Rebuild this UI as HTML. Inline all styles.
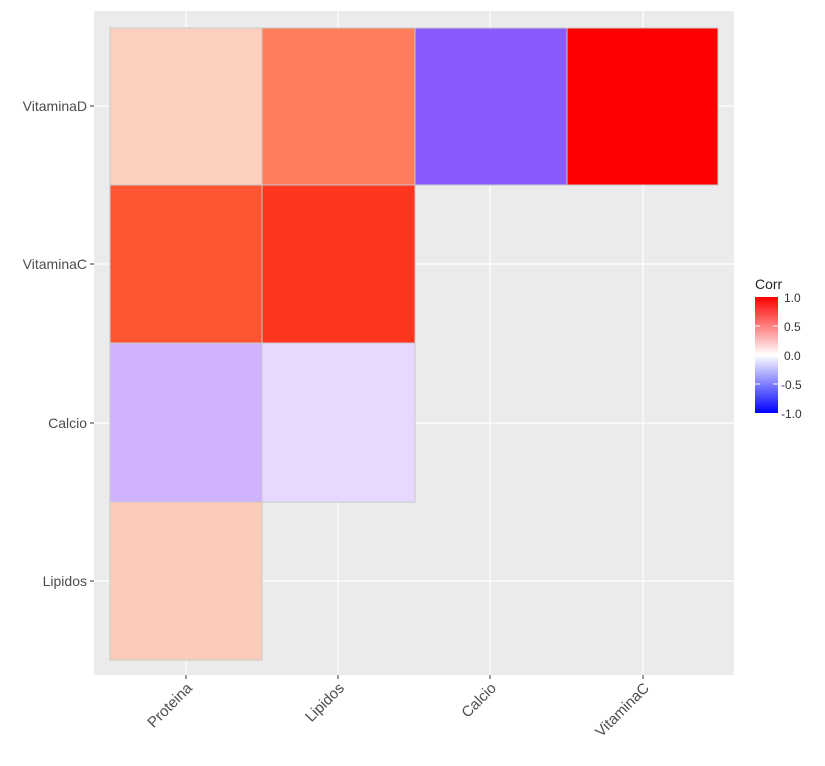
<!DOCTYPE html>
<html><head><style>
body{margin:0;background:#fff;}
</style></head><body>
<svg width="825" height="761" xmlns="http://www.w3.org/2000/svg" font-family="Liberation Sans, sans-serif">
<rect x="94" y="11" width="640" height="664" fill="#EBEBEB"/>
<g stroke="#fff" stroke-width="1.3">
<line x1="186" y1="11" x2="186" y2="675"/><line x1="338" y1="11" x2="338" y2="675"/>
<line x1="490" y1="11" x2="490" y2="675"/><line x1="643" y1="11" x2="643" y2="675"/>
<line x1="94" y1="106" x2="734" y2="106"/><line x1="94" y1="264" x2="734" y2="264"/>
<line x1="94" y1="423" x2="734" y2="423"/><line x1="94" y1="581" x2="734" y2="581"/>
</g>
<g stroke="#c8c8c8" stroke-width="1">
<rect x="110" y="28" width="152" height="157" fill="#FDCFBF"/>
<rect x="262" y="28" width="153" height="157" fill="#FE7E5B"/>
<rect x="415" y="28" width="152" height="157" fill="#8A5AFF"/>
<rect x="567" y="28" width="151" height="157" fill="#FF0000"/>
<rect x="110" y="185" width="152" height="158" fill="#FF5533"/>
<rect x="262" y="185" width="153" height="158" fill="#FF3520"/>
<rect x="110" y="343" width="152" height="159" fill="#D0B3FF"/>
<rect x="262" y="343" width="153" height="159" fill="#E7D8FF"/>
<rect x="110" y="502" width="152" height="158" fill="#FDCBB9"/>
</g>
<g stroke="#333" stroke-width="1">
<line x1="90" y1="106" x2="94" y2="106"/><line x1="90" y1="264" x2="94" y2="264"/>
<line x1="90" y1="423" x2="94" y2="423"/><line x1="90" y1="581" x2="94" y2="581"/>
<line x1="186" y1="675" x2="186" y2="679"/><line x1="338" y1="675" x2="338" y2="679"/>
<line x1="490" y1="675" x2="490" y2="679"/><line x1="643" y1="675" x2="643" y2="679"/>
</g>
<g font-size="14" fill="#4D4D4D" text-anchor="end">
<text x="87" y="111">VitaminaD</text>
<text x="87" y="269">VitaminaC</text>
<text x="87" y="428">Calcio</text>
<text x="87" y="586">Lipidos</text>
</g>
<g font-size="15" fill="#4D4D4D" text-anchor="end">
<text transform="translate(193,689) rotate(-45)">Proteina</text>
<text transform="translate(345,689) rotate(-45)">Lipidos</text>
<text transform="translate(497,689) rotate(-45)">Calcio</text>
<text transform="translate(650,689) rotate(-45)">VitaminaC</text>
</g>
<defs><linearGradient id="g" x1="0" y1="0" x2="0" y2="1">
<stop offset="0" stop-color="#FF0000"/><stop offset="0.5" stop-color="#FFFFFF"/><stop offset="1" stop-color="#0000FF"/>
</linearGradient></defs>
<text x="755" y="289" font-size="14" fill="#222">Corr</text>
<rect x="755" y="297" width="23" height="116" fill="url(#g)"/>
<g stroke="#fff" stroke-width="1">
<line x1="755" y1="326" x2="760" y2="326"/><line x1="773" y1="326" x2="778" y2="326"/>
<line x1="755" y1="355" x2="760" y2="355"/><line x1="773" y1="355" x2="778" y2="355"/>
<line x1="755" y1="384" x2="760" y2="384"/><line x1="773" y1="384" x2="778" y2="384"/>
</g>
<g font-size="12" fill="#333">
<text x="784" y="302">1.0</text><text x="784" y="331">0.5</text><text x="784" y="360">0.0</text>
<text x="781" y="389">-0.5</text><text x="781" y="418">-1.0</text>
</g>
</svg>
</body></html>
